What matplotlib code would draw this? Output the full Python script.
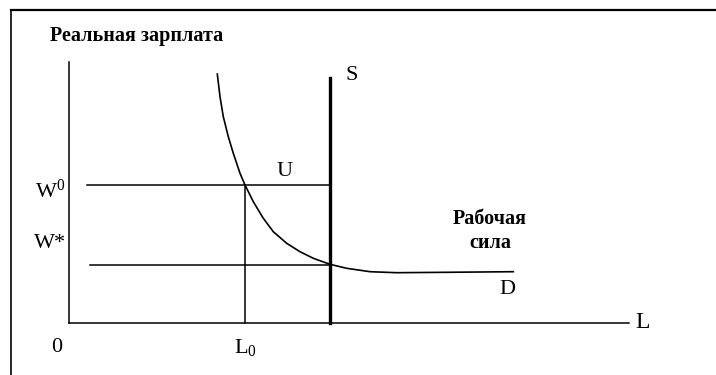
import matplotlib
matplotlib.use("Agg")
import matplotlib.pyplot as plt

plt.rcParams["font.family"] = ["Liberation Serif", "DejaVu Serif"]
plt.rcParams["mathtext.fontset"] = "custom"
plt.rcParams["mathtext.rm"] = "Liberation Serif"
plt.rcParams["mathtext.it"] = "Liberation Serif:italic"

demand_L = [14.83, 15.10, 15.43, 15.93, 16.43, 17.10, 17.60, 18.43, 19.43, 20.43, 21.77,
            23.10, 24.43, 26.10, 27.77, 30.10, 32.77, 37.77, 44.43]
demand_W = [24.90, 22.63, 20.63, 18.63, 16.97, 14.97, 13.80, 12.13, 10.47, 9.13, 7.97,
            7.13, 6.47, 5.87, 5.47, 5.13, 5.03, 5.07, 5.13]

# vertical supply S and the reference levels
supply_L = 26.1
supply_top = 24.5
w_high = 13.8      # W0
w_star = 5.8       # W*
L_zero = 17.6      # L0
w_high_start = 1.8
w_star_start = 2.1
x_axis_end = 56.0
y_axis_top = 26.1

fig = plt.figure(figsize=(7.16, 3.75), dpi=100)
ax = fig.add_axes([0, 0, 1, 1])
ax.set_xlim(-6.9, 64.7)
ax.set_ylim(-5.2, 32.3)
ax.axis("off")

# outer frame (top and left only)
fig.add_artist(plt.Line2D([11 / 716, 1], [1 - 10 / 375] * 2, color="black", lw=1.6))
fig.add_artist(plt.Line2D([11 / 716] * 2, [0, 1 - 10 / 375], color="black", lw=1.2))

# axes
ax.plot([0, x_axis_end], [0, 0], color="black", lw=1.1)
ax.plot([0, 0], [0, y_axis_top], color="black", lw=1.1)

# supply
ax.plot([supply_L, supply_L], [0, supply_top], color="black", lw=2.4)

# wage levels and L0
ax.plot([w_high_start, supply_L], [w_high, w_high], color="black", lw=1.1)
ax.plot([w_star_start, supply_L], [w_star, w_star], color="black", lw=1.1)
ax.plot([L_zero, L_zero], [0, w_high], color="black", lw=1.1)

# demand
ax.plot(demand_L, demand_W, color="black", lw=1.2, solid_joinstyle="round")

fs = 16
ax.text(-1.9, 28.7, "Реальная зарплата", fontsize=14.5, fontweight="bold", ha="left", va="center")
ax.text(28.3, 24.7, "S", fontsize=fs, ha="center", va="center")
ax.text(21.6, 15.2, "U", fontsize=fs, ha="center", va="center")
ax.text(-1.9, 13.2, r"W$^{0}$", fontsize=fs, ha="center", va="center")
ax.text(-1.9, 7.9, "W*", fontsize=fs, ha="center", va="center")
ax.text(-1.2, -2.4, "0", fontsize=fs, ha="center", va="center")
ax.text(L_zero, -2.4, r"L$_{0}$", fontsize=fs, ha="center", va="center")
ax.text(57.4, 0.0, "L", fontsize=17, ha="center", va="center")
ax.text(43.8, 3.3, "D", fontsize=fs, ha="center", va="center")
ax.text(42.1, 9.2, "Рабочая\nсила", fontsize=14.5, fontweight="bold", ha="center", va="center",
        linespacing=1.2)

fig.savefig("out.png", dpi=100)
plt.close(fig)
